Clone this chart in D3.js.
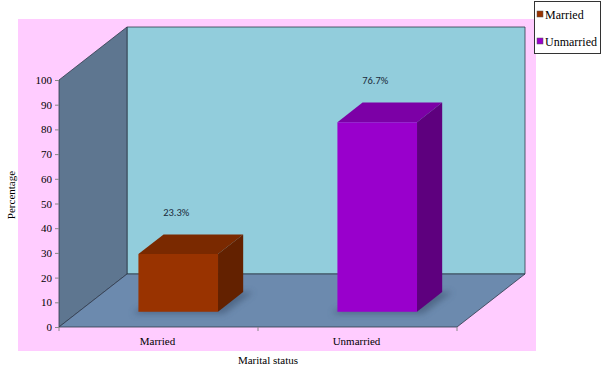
<!DOCTYPE html>
<html>
<head>
<meta charset="utf-8">
<script src="https://cdn.jsdelivr.net/npm/d3@7"></script>
<style>
  body { margin: 0; background: #fff; }
  svg { display: block; }
  .tick text { font-family: "Liberation Serif", "Times New Roman", serif; font-size: 11px; fill: #000; }
</style>
</head>
<body>
<div id="chart"></div>
<script>
// Chart data.
var categories = ["Married", "Unmarried"];
var values = [23.3, 76.7];
var valueLabels = ["23.3%", "76.7%"];
var yTicks = [0, 10, 20, 30, 40, 50, 60, 70, 80, 90, 100];

var colors = {
    Married:   {front: "#993300", top: "#7a2900", side: "#632100"},
    Unmarried: {front: "#9900cc", top: "#7c00a6", side: "#5e007e"}
};

var W = 603, H = 368;
var svg = d3.select("#chart").append("svg").attr("width", W).attr("height", H);

// Depth offset of the 3D box (front plane -> back wall).
var depth = {dx: 68, dy: -53};

var y = d3.scaleLinear().domain([0, 100]).range([327, 80]);
var x = d3.scaleBand().domain(categories).range([59, 457]);

// Projects a point on the front plane back by fraction z of the depth.
function proj(px, py, z) {
    return [px + z * depth.dx, py + z * depth.dy];
}
function poly(pts) {
    return pts.map(function(p) { return p.join(","); }).join(" ");
}

var defs = svg.append("defs");
defs.append("filter").attr("id", "blur")
    .attr("x", "-50%").attr("y", "-50%").attr("width", "200%").attr("height", "200%")
  .append("feGaussianBlur").attr("stdDeviation", 3);

// Plot area background.
svg.append("rect")
    .attr("x", 18).attr("y", 19).attr("width", 518).attr("height", 332)
    .attr("fill", "#ffccff");

var x0 = x.range()[0], x1 = x.range()[1];
var yb = y(0), yt = y(100);
var edge = "#2e3a4a";

// Back wall.
svg.append("polygon")
    .attr("points", poly([proj(x0, yt, 1), proj(x1, yt, 1), proj(x1, yb, 1), proj(x0, yb, 1)]))
    .attr("fill", "#92cddc").attr("stroke", edge).attr("stroke-width", 0.8);

// Left wall.
svg.append("polygon")
    .attr("points", poly([[x0, yt], proj(x0, yt, 1), proj(x0, yb, 1), [x0, yb]]))
    .attr("fill", "#5e7690").attr("stroke", edge).attr("stroke-width", 0.8);

// Floor.
svg.append("polygon")
    .attr("points", poly([[x0, yb], proj(x0, yb, 1), proj(x1, yb, 1), [x1, yb]]))
    .attr("fill", "#6c8aae").attr("stroke", edge).attr("stroke-width", 0.8);

// Bars.
var z0 = 0.29, z1 = 0.66;
var bw = x.bandwidth() * 0.4;

categories.forEach(function(c, i) {
    var cx = x(c) + x.bandwidth() / 2;
    var l = cx - bw / 2, r = cx + bw / 2;
    var top = y(values[i]), bot = y(0);
    var col = colors[c];
    var g = svg.append("g").attr("class", "bar");

    // soft shadow on the floor
    g.append("polygon")
        .attr("points", poly([proj(l - 6, bot + 2, z0), proj(r + 6, bot + 2, z0),
                              proj(r + 10, bot, z1), proj(l, bot, z1)]))
        .attr("fill", "#3e5370").attr("opacity", 0.6).attr("filter", "url(#blur)");

    g.append("polygon")
        .attr("points", poly([proj(l, top, z0), proj(l, top, z1), proj(r, top, z1), proj(r, top, z0)]))
        .attr("fill", col.top);
    g.append("polygon")
        .attr("points", poly([proj(r, top, z0), proj(r, top, z1), proj(r, bot, z1), proj(r, bot, z0)]))
        .attr("fill", col.side);
    g.append("polygon")
        .attr("points", poly([proj(l, top, z0), proj(r, top, z0), proj(r, bot, z0), proj(l, bot, z0)]))
        .attr("fill", col.front);

    var p = proj(cx, top, z0);
    svg.append("text")
        .attr("x", p[0] - 2)
        .attr("y", p[1] - 38)
        .attr("text-anchor", "middle")
        .attr("font-family", "Carlito, 'Liberation Sans', sans-serif")
        .attr("font-size", 10.5)
        .attr("fill", "#1a2a3a")
        .text(valueLabels[i]);
});

// Y axis.
var yAxis = svg.append("g")
    .attr("transform", "translate(" + x0 + ",0)")
    .call(d3.axisLeft(y).tickValues(yTicks).tickSize(4).tickPadding(3));
yAxis.select(".domain").remove();
yAxis.selectAll(".tick line").attr("stroke", "#888");

// X axis ticks (category boundaries) and labels.
var bounds = [x0, x(categories[1]), x1];
svg.selectAll("line.xtick").data(bounds).enter().append("line")
    .attr("class", "xtick")
    .attr("x1", function(d) { return d; }).attr("x2", function(d) { return d; })
    .attr("y1", yb).attr("y2", yb + 4)
    .attr("stroke", "#888");

svg.selectAll("text.xlabel").data(categories).enter().append("text")
    .attr("class", "xlabel")
    .attr("x", function(d) { return x(d) + x.bandwidth() / 2 - 1; })
    .attr("y", 345)
    .attr("text-anchor", "middle")
    .attr("font-family", "'Liberation Serif', 'Times New Roman', serif")
    .attr("font-size", 11)
    .text(function(d) { return d; });

// Axis titles.
svg.append("text")
    .attr("x", 268).attr("y", 364)
    .attr("text-anchor", "middle")
    .attr("font-family", "'Liberation Serif', 'Times New Roman', serif")
    .attr("font-size", 11)
    .text("Marital status");

svg.append("text")
    .attr("transform", "translate(15,195) rotate(-90)")
    .attr("text-anchor", "middle")
    .attr("font-family", "'Liberation Serif', 'Times New Roman', serif")
    .attr("font-size", 11)
    .text("Percentage");

// Legend.
var legend = svg.append("g");
legend.append("rect")
    .attr("x", 534.5).attr("y", 1.5).attr("width", 66).attr("height", 52)
    .attr("fill", "#fff").attr("stroke", "#333").attr("stroke-width", 1);
categories.forEach(function(c, i) {
    var ly = 15 + i * 27;
    legend.append("rect")
        .attr("x", 537).attr("y", ly - 4).attr("width", 6).attr("height", 6)
        .attr("fill", colors[c].front).attr("stroke", "#555").attr("stroke-width", 0.5);
    legend.append("text")
        .attr("x", 545).attr("y", ly + 4)
        .attr("font-family", "'Liberation Serif', 'Times New Roman', serif")
        .attr("font-size", 12)
        .text(c);
});
</script>
</body>
</html>
